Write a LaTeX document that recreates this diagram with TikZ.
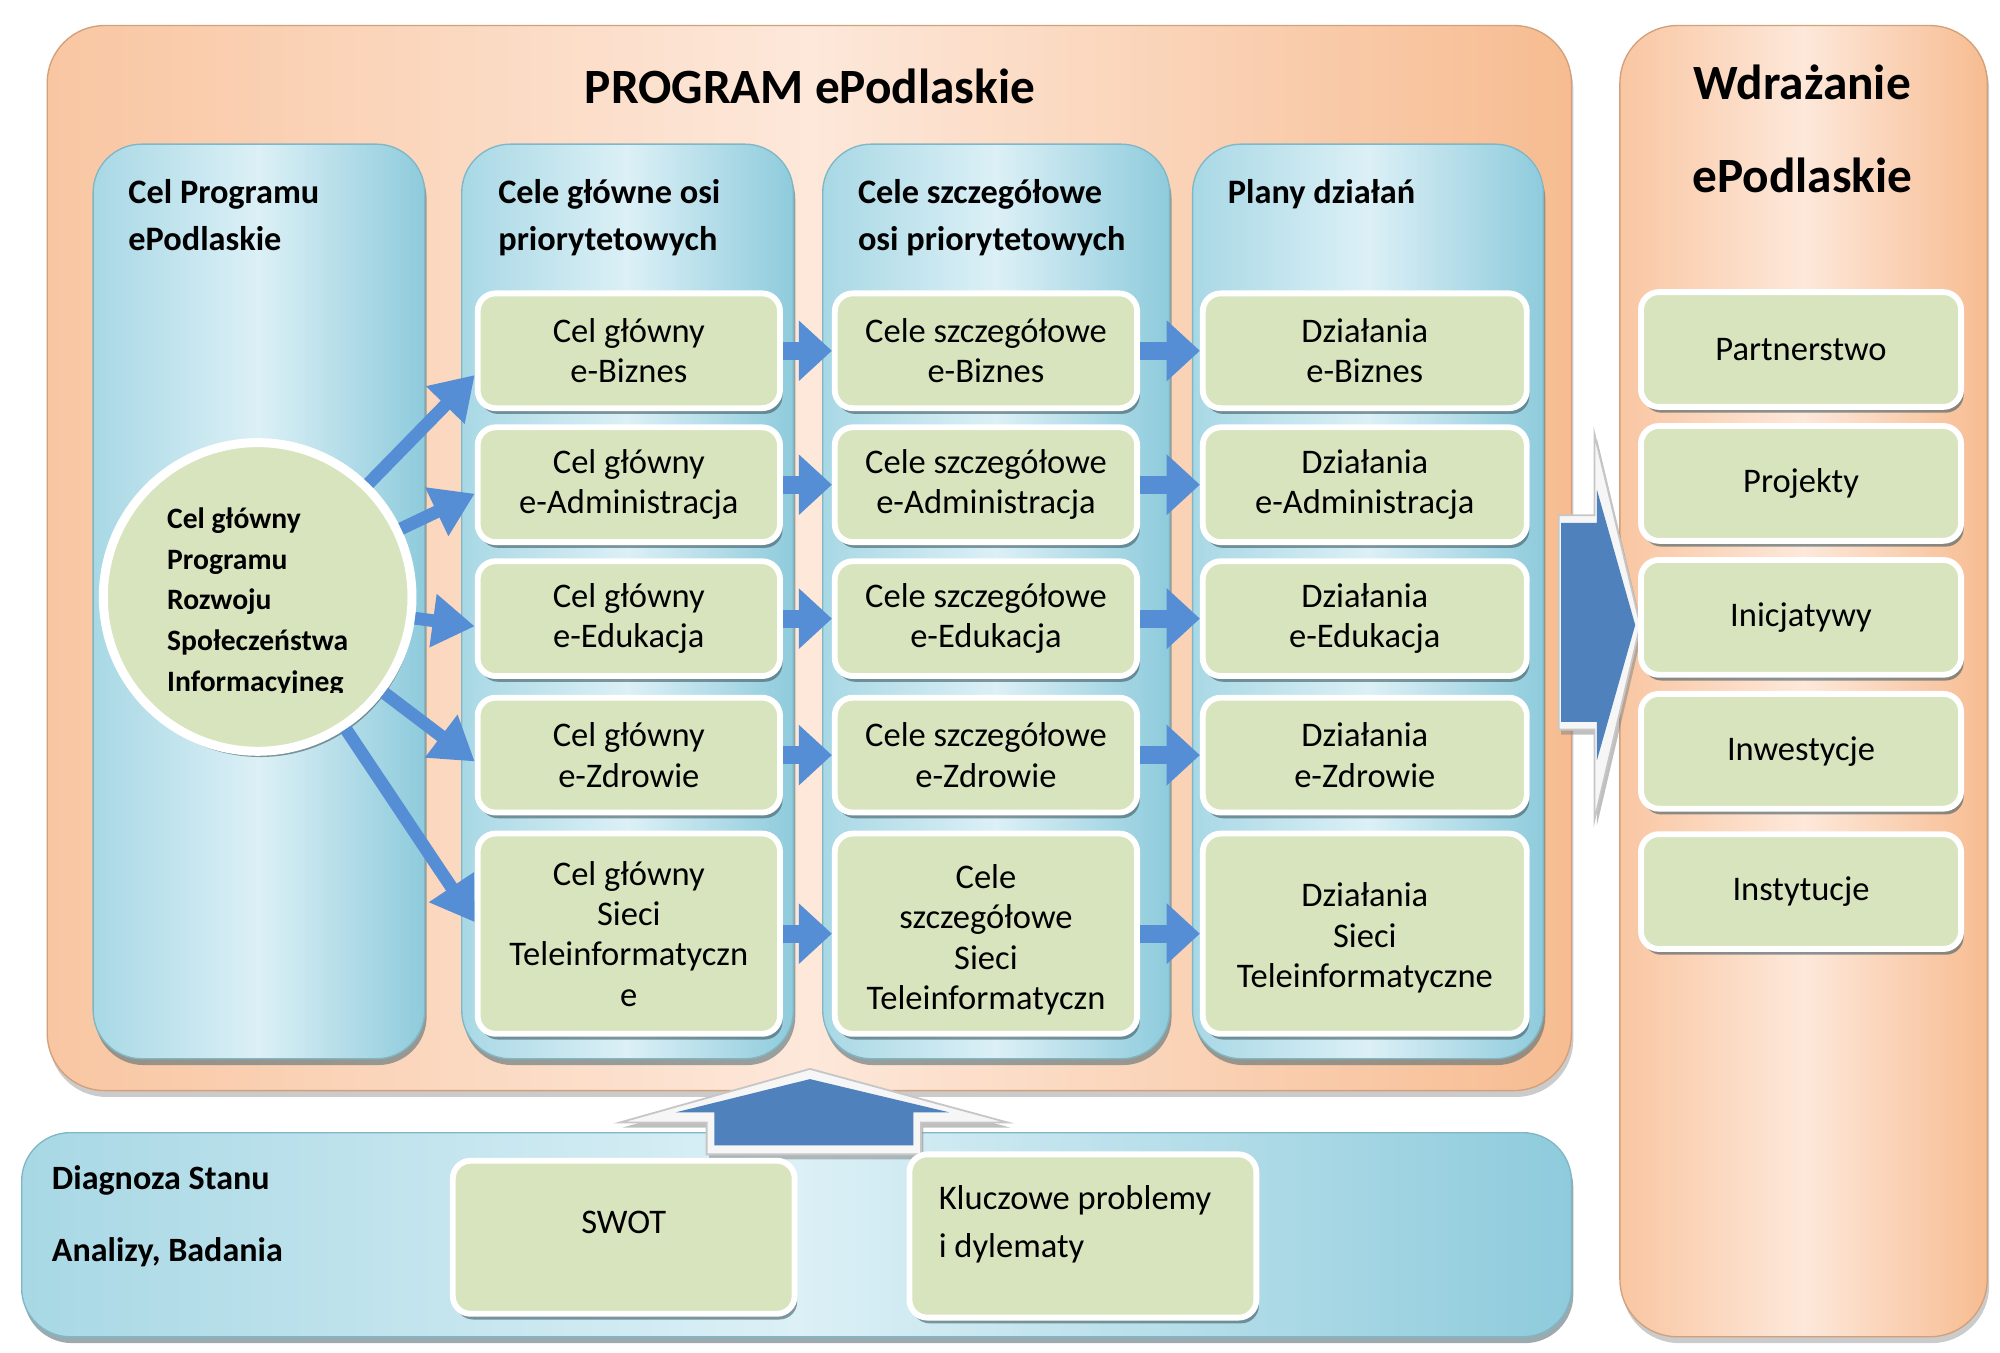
\documentclass[tikz,border=0pt]{standalone}
\usepackage{fontspec}
\setmainfont{Carlito}
\usepackage{tikz}
\usetikzlibrary{arrows.meta,shadows}

\definecolor{orLight}{HTML}{FDE8DA}
\definecolor{orLeft}{HTML}{F9C6A2}
\definecolor{orRight}{HTML}{F7BC91}
\definecolor{blLight}{HTML}{DCF0F6}
\definecolor{blLeft}{HTML}{A8D8E5}
\definecolor{blRight}{HTML}{8ECBDC}
\definecolor{celGreen}{HTML}{D7E4BD}
\definecolor{flowBlue}{HTML}{558ED5}
\definecolor{bigBlue}{HTML}{4F81BD}

\begin{document}
\begin{tikzpicture}[x=0.1mm, y=-0.1mm,
    orpanel/.style={rounded corners=4.5mm, left color=orLeft, right color=orRight, middle color=orLight,
        draw=orRight!85!black, line width=0.3pt,
        drop shadow={shadow xshift=0.15mm, shadow yshift=-0.5mm, fill=black!45, opacity=0.45}},
    blpanel/.style={rounded corners=3.8mm, left color=blLeft, right color=blRight, middle color=blLight,
        draw=blRight!90!black, line width=0.3pt,
        drop shadow={shadow xshift=0.15mm, shadow yshift=-0.5mm, fill=blRight!50!black, opacity=0.55}},
    celbox/.style={rectangle, rounded corners=1.4mm, fill=celGreen, draw=white, line width=1.3pt,
        align=center, inner sep=0.5mm, font=\fontsize{7.7}{9}\selectfont,
        drop shadow={shadow xshift=0.2mm, shadow yshift=-0.45mm, fill=black!55!blRight, opacity=0.6}},
    colhead/.style={anchor=north west, inner sep=0pt, align=left, font=\fontsize{7.65}{10.5}\selectfont\bfseries},
    bigtitle/.style={anchor=north, inner sep=0pt, align=center, font=\fontsize{11}{20.8}\selectfont\bfseries},
    flow/.style={draw=flowBlue, line width=1.4mm, -{Triangle[width=4.6mm, length=2.6mm]}},
    flowthin/.style={draw=flowBlue, line width=1mm, -{Triangle[width=4mm, length=3.3mm]}},
    bevel/.style={fill=white!93!gray, draw=gray!45, line width=0.4pt,
        drop shadow={shadow xshift=0.2mm, shadow yshift=-0.4mm, fill=gray, opacity=0.5}},
]

    \useasboundingbox (0,0) rectangle (1568,1060);

    \newcommand{\panelTop}{113}
    \newcommand{\panelBottom}{830}

    \draw[orpanel] (37,20) rectangle (1232,855); % PROGRAM ePodlaskie
    \draw[orpanel] (1270,20) rectangle (1558,1048); % Wdrazanie
    \draw[blpanel] (17,888) rectangle (1232,1048); % Diagnoza

    \node[bigtitle] (program) at (635,53) {PROGRAM ePodlaskie};
    \node[bigtitle] (wdrazanie) at (1413,50) {Wdrażanie\\ePodlaskie};

    \foreach \xa/\xb in {73/333, 362/622, 645/917, 935/1210} {
        \draw[blpanel] (\xa,\panelTop) rectangle (\xb,\panelBottom);
    }

    \node[colhead] (hCel) at (100,140) {Cel Programu\\ePodlaskie};
    \node[colhead] (hGlowne) at (390,140) {Cele główne osi\\priorytetowych};
    \node[colhead] (hSzczeg) at (672,140) {Cele szczegółowe\\osi priorytetowych};
    \node[colhead] (hPlany) at (962,140) {Plany działań};

    % up arrow from Diagnoza
    \draw[bevel] (635,838) -- (790,880) -- (722,880) -- (722,905) -- (554,905) -- (554,880) -- (486,880) -- cycle;
    \fill[bigBlue] (635,846) -- (744,872) -- (716,872) -- (716,898) -- (560,898) -- (560,872) -- (530,872) -- cycle;

    % right arrow to Wdrazanie
    \draw[bevel] (1222,404) -- (1250,404) -- (1250,340) -- (1286,490) -- (1250,643) -- (1250,572) -- (1222,572) -- cycle;
    \fill[bigBlue] (1224,410) -- (1252,410) -- (1252,384) -- (1282,490) -- (1252,596) -- (1252,566) -- (1224,566) -- cycle;

    \foreach \r/\y/\nazwa in {1/275/e-Biznes, 2/380/e-Administracja, 3/485/e-Edukacja, 4/592/e-Zdrowie} {
        \node[celbox, minimum width=23.7mm, minimum height=9mm] (glowny\r) at (493,\y) {Cel główny\\\nazwa};
        \node[celbox, minimum width=23.7mm, minimum height=9mm] (szczeg\r) at (773,\y) {Cele szczegółowe\\\nazwa};
        \node[celbox, minimum width=25.4mm, minimum height=9mm] (dzial\r) at (1070,\y) {Działania\\\nazwa};
    }
    \node[celbox, minimum width=23.7mm, minimum height=15.7mm] (glowny5) at (493,732) {Cel główny\\Sieci\\Teleinformatyczn\\e};
    \node[celbox, minimum width=23.7mm, minimum height=15.7mm, text height=12.3mm] (szczeg5) at (773,732) {Cele\\szczegółowe\\Sieci\\Teleinformatyczn};
    \node[celbox, minimum width=25.4mm, minimum height=15.7mm, text height=8.9mm] (dzial5) at (1070,732) {Działania\\Sieci\\Teleinformatyczne};

    \foreach \y/\nazwa [count=\i] in {274/Partnerstwo, 379/Projekty, 484/Inicjatywy, 589/Inwestycje, 699/Instytucje} {
        \node[celbox, minimum width=25.1mm, minimum height=9mm] (wdr\i) at (1412,\y) {\nazwa};
    }

    \node[celbox, circle, minimum size=24.2mm, line width=2pt] (celProg) at (202,468) {};
    \begin{scope}
        \clip (0,0) rectangle (1568,543);
        \node[align=left, inner sep=0pt, font=\fontsize{6.6}{9.1}\selectfont\bfseries] (celProgTxt) at ([yshift=-0.4mm]celProg.center)
            {Cel główny\\Programu\\Rozwoju\\Społeczeństwa\\Informacyjneg};
    \end{scope}

    \foreach \r/\dy in {1/-1.9mm, 2/-0.7mm, 3/-0.6mm, 4/-0.5mm, 5/0.9mm} {
        \draw[flowthin] (celProg) -- ([yshift=\dy]glowny\r.west);
    }
    \foreach \r in {1,...,5} {
        \draw[flow] (glowny\r.east) -- (glowny\r.east -| szczeg\r.west);
        \draw[flow] (szczeg\r.east) -- (szczeg\r.east -| dzial\r.west);
    }

    \node[colhead, font=\fontsize{7.6}{16.2}\selectfont\bfseries] (diagnoza) at (40,913) {Diagnoza Stanu\\Analizy, Badania};
    \node[celbox, minimum width=26.8mm, minimum height=12mm, text depth=2.4mm] (swot) at (489,970) {SWOT};
    \node[celbox, align=flush left, text width=22.6mm, inner xsep=2.3mm, minimum height=12.8mm, text depth=6mm] (kluczowe) at (849,969)
        {Kluczowe problemy\\[0.6mm]i dylematy};

\end{tikzpicture}
\end{document}
